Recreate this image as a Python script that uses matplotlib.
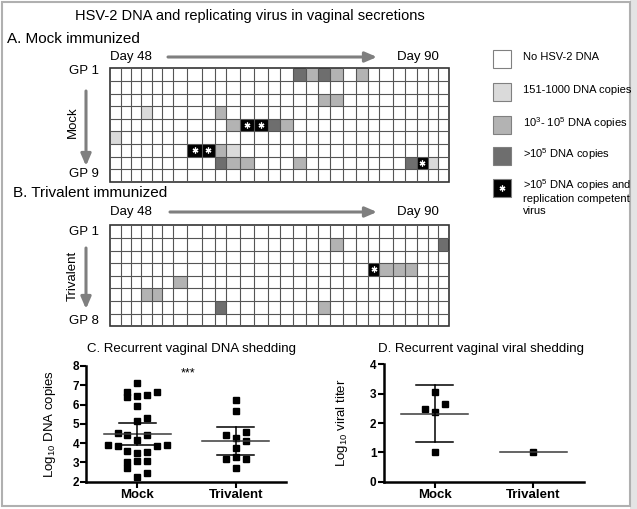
import numpy as np
import matplotlib
matplotlib.use('Agg')
import matplotlib.pyplot as plt
from matplotlib.colors import ListedColormap, BoundaryNorm
from matplotlib.patches import Rectangle

plt.rcParams['font.family'] = ['Liberation Sans', 'DejaVu Sans']
plt.rcParams['mathtext.fontset'] = 'custom'
plt.rcParams['mathtext.rm'] = 'Liberation Sans'
plt.rcParams['mathtext.it'] = 'Liberation Sans:italic'
plt.rcParams['mathtext.bf'] = 'Liberation Sans:bold'

# shedding per animal: {sample column: level}
# level 1 = 151-1000 copies, 2 = 1e3-1e5, 3 = >1e5, 4 = >1e5 + replicating virus
n_samples = 28
mock_events = [
    {15: 3, 16: 2, 17: 3, 18: 2, 20: 2},
    {},
    {17: 2, 18: 2},
    {3: 1, 9: 2},
    {10: 2, 11: 4, 12: 4, 13: 3, 14: 2},
    {0: 1},
    {7: 4, 8: 4, 9: 2, 10: 1},
    {9: 3, 10: 2, 11: 2, 15: 2, 24: 3, 25: 4, 26: 1},
    {},
]
triv_events = [
    {},
    {18: 2, 27: 3},
    {},
    {21: 4, 22: 2, 23: 2, 24: 2},
    {6: 2},
    {3: 2, 4: 2},
    {9: 3, 17: 2},
    {},
]

legend_levels = [0, 1, 2, 3, 4]
legend_labels = ["No HSV-2 DNA", "151-1000 DNA copies", "10$^3$- 10$^5$ DNA copies",
                 ">10$^5$ DNA copies",
                 ">10$^5$ DNA copies and\nreplication competent\nvirus"]

# panel C / D values (log10) and their swarm slot
groups = ["Mock", "Trivalent"]
mock_dna = [7.10, 6.67, 6.38, 6.45, 6.50, 6.65, 5.93, 5.15, 5.30, 4.53, 4.40, 4.40, 4.14,
            3.92, 3.87, 3.83, 3.90, 3.57, 3.50, 3.56, 3.04, 3.05, 3.06, 2.69, 2.47, 2.25]
mock_dna_slot = [0, -1, -1, 0, 1, 2, 0, 0, 1, -2, -1, 1, 0, -3, -2, 2, 3, -1, 0, 1, -1, 0, 1, -1, 1, 0]
triv_dna = [6.22, 5.66, 4.42, 4.56, 4.25, 4.12, 3.77, 3.17, 3.29, 3.17, 2.72]
triv_dna_slot = [0, 0, -1, 1, 0, 1, 0, -1, 0, 1, 0]
mock_titer = [3.07, 2.66, 2.47, 2.39, 1.01]
mock_titer_slot = [0, 1, -1, 0, 0]
triv_titer = [1.0]
triv_titer_slot = [0]

# t critical values (95%) by degrees of freedom
t_crit = {1: 12.706, 2: 4.303, 3: 3.182, 4: 2.776, 10: 2.228, 25: 2.060}

# layout (pixels)
col_edges = [110, 120.7, 130.7, 140.7, 151.7, 162.3, 173.3, 187.3, 201.7, 215, 226, 240,
             254.3, 268.3, 280, 293.3, 305.7, 318.3, 330, 342.7, 356, 367.7, 379.3, 392.7,
             405, 416.7, 427.7, 438.3, 449.3]
row_h = 12.6
level_colors = ['white', '#dadada', '#b3b3b3', '#6e6e6e', 'black']
cmap = ListedColormap(level_colors)
norm = BoundaryNorm([-0.5, 0.5, 1.5, 2.5, 3.5, 4.5], cmap.N)

fig = plt.figure(figsize=(6.37, 5.09), dpi=100)
page = fig.add_axes([0, 0, 1, 1])
page.set_xlim(0, 637)
page.set_ylim(509, 0)
page.axis('off')

page.add_patch(Rectangle((629.5, 0), 8, 509, fc='#e4e4e4', ec='none'))
page.add_patch(Rectangle((1.5, 1.5), 628, 504, fill=False, ec='#b0b0b0', lw=1.5))


def grid_panel(events, top):
    levels = np.zeros((len(events), n_samples))
    for r, ev in enumerate(events):
        for c, lv in ev.items():
            levels[r, c] = lv
    row_edges = top + row_h * np.arange(len(events) + 1)
    page.pcolormesh(col_edges, row_edges, levels, cmap=cmap, norm=norm)
    page.vlines(col_edges[1:-1], row_edges[0], row_edges[-1], color='#555555', lw=0.8)
    page.hlines(row_edges[1:-1], col_edges[0], col_edges[-1], color='#555555', lw=0.8)
    page.add_patch(Rectangle((col_edges[0], row_edges[0]), col_edges[-1] - col_edges[0],
                             row_edges[-1] - row_edges[0], fill=False, ec='#333333', lw=1.2))
    rr, cc = np.where(levels == 4)
    xc = [(col_edges[c] + col_edges[c + 1]) / 2 for c in cc]
    yc = [(row_edges[r] + row_edges[r + 1]) / 2 for r in rr]
    page.plot(xc, yc, ls='none', marker=(6, 2, 0), color='white', ms=4.2, mew=0.9)
    return row_edges


arrow = dict(arrowstyle='-|>,head_length=0.7,head_width=0.3', color='#7f7f7f', lw=2.2,
             shrinkA=0, shrinkB=0)

page.text(250, 16, "HSV-2 DNA and replicating virus in vaginal secretions", ha='center',
          va='center', fontsize=10.5)

# A: mock
page.text(7, 39, "A. Mock immunized", ha='left', va='center', fontsize=11)
page.text(110, 57, "Day 48", ha='left', va='center', fontsize=9.5)
page.text(397, 57, "Day 90", ha='left', va='center', fontsize=9.5)
page.annotate('', xy=(377, 57), xytext=(168, 57), arrowprops=arrow)
mock_rows = grid_panel(mock_events, 68.3)
page.text(99, 71, "GP 1", ha='right', va='center', fontsize=9.5)
page.text(99, 174, "GP 9", ha='right', va='center', fontsize=9.5)
page.annotate('', xy=(86, 166), xytext=(86, 91), arrowprops=arrow)
page.text(73, 122, "Mock", rotation=90, ha='center', va='center', fontsize=9.5)

# B: trivalent
page.text(13, 193, "B. Trivalent immunized", ha='left', va='center', fontsize=11)
page.text(110, 212, "Day 48", ha='left', va='center', fontsize=9.5)
page.text(397, 212, "Day 90", ha='left', va='center', fontsize=9.5)
page.annotate('', xy=(377, 212), xytext=(170, 212), arrowprops=arrow)
triv_rows = grid_panel(triv_events, 225.3)
page.text(99, 232, "GP 1", ha='right', va='center', fontsize=9.5)
page.text(99, 321, "GP 8", ha='right', va='center', fontsize=9.5)
page.annotate('', xy=(86, 309), xytext=(86, 248), arrowprops=arrow)
page.text(73, 276, "Trivalent", rotation=90, ha='center', va='center', fontsize=9.5)

# legend
box_tops = [50, 83.3, 116, 146.7, 179.3]
for top, lv, lab in zip(box_tops, legend_levels, legend_labels):
    page.add_patch(Rectangle((492.7, top), 18, 18, fc=level_colors[lv], ec='#808080', lw=0.8))
    if lv == 4:
        page.plot(501.7, top + 9, marker=(6, 2, 0), color='white', ms=4.2, mew=0.9)
    multi = '\n' in lab
    page.text(523, top - 2.5 if multi else top + 7, lab, ha='left',
              va='top' if multi else 'center', fontsize=8, linespacing=1.2)


def scatter_panel(ax, data, slots, ylim, ticks, ylabel):
    for i, (vals, sl) in enumerate(zip(data, slots)):
        vals = np.array(vals)
        x = i + 0.1 * np.array(sl)
        ax.plot(x, vals, ls='none', marker='s', color='black', ms=4.7)
        m = vals.mean()
        ax.plot([i - 0.34, i + 0.34], [m, m], color='#3a3a3a', lw=1.1)
        n = len(vals)
        if n > 1:
            ci = t_crit[n - 1] * vals.std(ddof=1) / np.sqrt(n)
            ax.plot([i, i], [m - ci, m + ci], color='black', lw=1.1)
            for y in (m - ci, m + ci):
                ax.plot([i - 0.19, i + 0.19], [y, y], color='black', lw=1.1)
    ax.set_xlim(-0.52, 1.51)
    ax.set_ylim(*ylim)
    ax.set_yticks(ticks)
    ax.set_xticks([0, 1])
    ax.set_xticklabels(groups, fontsize=9.5, fontweight='bold')
    for t in ax.get_yticklabels():
        t.set_fontweight('bold')
        t.set_fontsize(8.5)
    for s in ('top', 'right'):
        ax.spines[s].set_visible(False)
    for s in ('left', 'bottom'):
        ax.spines[s].set_linewidth(1.8)
    ax.tick_params(direction='out', length=4, width=1.5, pad=1)
    ax.set_ylabel(ylabel, fontsize=9.5)
    ax.patch.set_alpha(0)


axC = fig.add_axes([86 / 637, (509 - 481.7) / 509, 200 / 637, 115.7 / 509])
scatter_panel(axC, [mock_dna, triv_dna], [mock_dna_slot, triv_dna_slot], (2, 8),
              range(2, 9), "Log$_{10}$ DNA copies")
axC.yaxis.set_label_coords(-0.14, 0.5)
axC.text(188, 373, "***", ha='center', va='center', fontsize=9, transform=page.transData)
page.text(87, 349, "C. Recurrent vaginal DNA shedding", ha='left', va='center', fontsize=9.5)

axD = fig.add_axes([383.5 / 637, (509 - 481.7) / 509, 200 / 637, 117.4 / 509])
scatter_panel(axD, [mock_titer, triv_titer], [mock_titer_slot, triv_titer_slot], (0, 4),
              range(0, 5), "Log$_{10}$ viral titer")
axD.yaxis.set_label_coords(-0.165, 0.5)
page.text(378, 349, "D. Recurrent vaginal viral shedding", ha='left', va='center', fontsize=9.5)

fig.savefig('out.png', dpi=100)
